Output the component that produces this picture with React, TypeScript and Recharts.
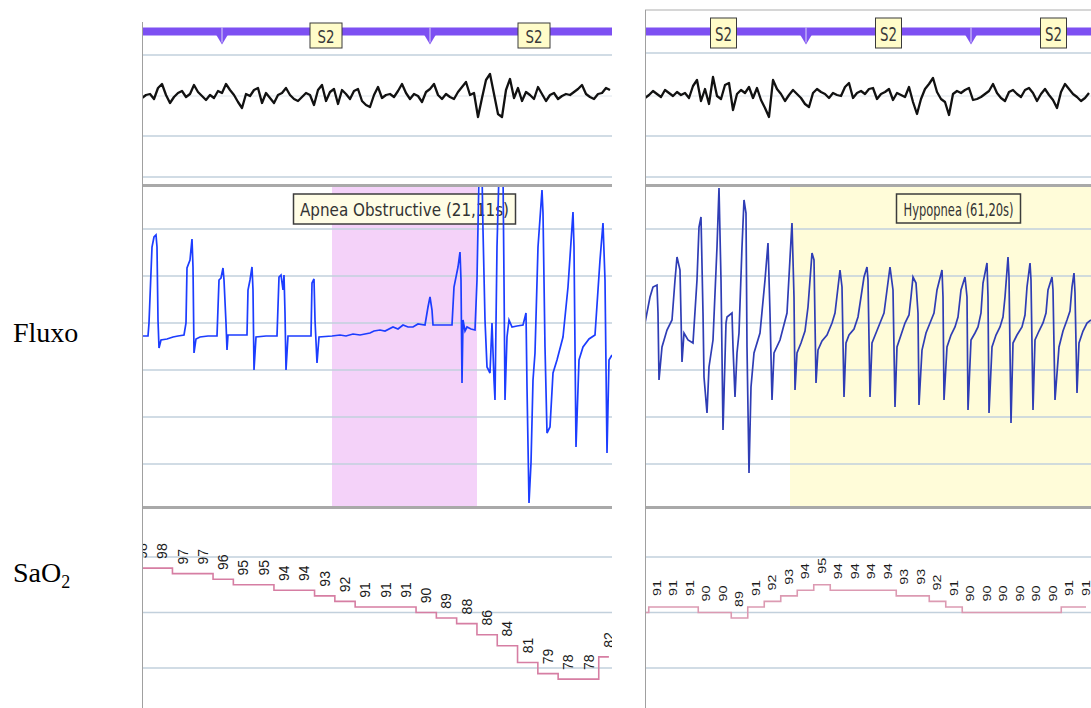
import React from "react";
import {
  ComposedChart,
  LineChart,
  Line,
  XAxis,
  YAxis,
  ReferenceLine,
  ReferenceArea,
  ReferenceDot,
  LabelList,
} from "recharts";

// time is in screen ticks of each recording window (1 tick = 1 column)

// ---------- apnea window (left) ----------
const apneaEpochStarts = [-128, 80, 288];
const apneaEpochStages = ["S2", "S2", "S2"];
const apneaEpochLen = 208;

// EEG, one sample every 4 ticks
const apneaEeg = [
  -2, 1, 2, -3, 8, 12, 1, -7, -1, 3, 5, -1, 2, 11, 4, 0, -4, 1, -2, 5, 3, 12, 6, 1,
  -6, -12, 2, 0, 6, 8, -7, 3, -2, -7, 1, 3, 8, 1, -3, -5, -1, 3, 1, -9, 6, 11, -5, 4,
  7, -8, 6, 2, -3, 5, 7, -5, -9, -11, 1, 9, -2, 1, 2, -1, 5, 12, 3, -3, 2, 0, -6, 4,
  7, 12, 1, -3, 2, -1, -3, 4, 9, 14, 1, 3, -21, -2, 16, 22, 2, -18, -21, 6, 17, -2, 8, -5,
  4, 1, -3, 9, 2, -5, 1, 3, -3, 0, 2, 1, 4, 7, 11, 2, -1, -3, 2, 3, 8, 6,
];

// airflow [tick, amplitude]
const apneaFlow: [number, number][] = [
  [0, -13], [6, -13], [7, 0], [10, 76], [12, 86], [14, 88], [15, 76], [16, 3], [17, -25], [19, -17],
  [25, -16], [31, -14], [36, -13], [42, -12], [44, 0], [45, 55], [48, 63], [50, 84], [51, 56], [52, -30],
  [54, -16], [58, -14], [66, -13], [75, -13], [77, 43], [79, 45], [81, 55], [82, 43], [84, 0], [85, -27],
  [86, -12], [95, -12], [105, -12], [106, 33], [108, 43], [110, 56], [111, 33], [112, -47], [114, -14],
  [124, -13], [135, -13], [137, 46], [139, 48], [141, 33], [142, 48], [143, 10], [144, -47], [146, -13],
  [158, -13], [169, -13], [170, 40], [172, 44], [173, 3], [175, -40], [177, -14], [190, -13], [198, -12],
  [204, -13], [211, -11], [218, -12], [228, -10], [232, -8], [238, -7], [243, -8], [251, -4], [256, -6],
  [261, -2], [266, -4], [271, -4], [276, -1], [283, -2], [286, 16], [288, 26], [290, 13], [291, -2],
  [300, -2], [310, -2], [312, 36], [316, 56], [318, 71], [319, 43], [320, -60], [321, 3], [323, -8],
  [325, -4], [329, -6], [333, -7], [335, 43], [337, 150], [340, 150], [341, 93], [343, 3], [345, -44],
  [348, -50], [350, 0], [352, -57], [353, -77], [355, 76], [357, 150], [361, 150], [362, 43], [363, -77],
  [365, -14], [367, 3], [370, -4], [375, -3], [381, -2], [384, 10], [385, -64], [387, -180], [389, -140],
  [391, -57], [393, -30], [396, 76], [400, 133], [401, 110], [403, -24], [405, -110], [408, -104],
  [411, -50], [415, -37], [421, -14], [426, 36], [431, 111], [432, 76], [434, -124], [437, -37],
  [441, -24], [447, -16], [453, -12], [458, 63], [461, 100], [463, 43], [465, -130], [467, -37], [470, -32],
];

const apneaEvent = { start: 190, end: 335, label: "Apnea Obstructive (21,11s)" };

// SaO2, one reading every 20.3 ticks
const apneaSpo2 = [98, 98, 97, 97, 96, 95, 95, 94, 94, 93, 92, 91, 91, 91, 90, 89, 88, 86, 84, 81, 79, 78, 78, 82];

// ---------- hypopnea window (right) ----------
const hypoEpochStarts = [-4, 161, 326];
const hypoEpochStages = ["S2", "S2", "S2"];
const hypoEpochLen = 165;

const hypoEeg = [
  -2, 1, 5, 2, -1, 6, 3, 0, 4, 1, 3, -2, 10, 16, -5, 7, -8, 19, 0, -3, 11, 13, -14, 2,
  6, 3, 9, -2, 8, -4, -12, -21, 16, 7, 2, -5, 1, 6, 2, -2, -8, -11, 3, 7, 4, 2, -2, 3,
  1, 0, 9, 13, -2, 3, 5, 2, 7, 8, -3, 2, 4, 7, -4, 3, 1, -1, 9, -6, -18, -3, 7, 12,
  18, 4, -3, -6, -19, 2, 5, 3, 6, 8, -4, -3, -1, 2, 5, 12, 3, -2, -5, 4, 6, 2, -1, 6,
  8, 3, -5, 2, 7, 1, -4, -12, 4, 12, 7, 2, -1, -5, -2, 3,
];

const hypoFlow: [number, number][] = [
  [0, 0], [5, 26], [8, 36], [12, 38], [13, 10], [14, -57], [17, -24], [22, -7], [27, 3], [30, 43],
  [32, 66], [35, 53], [37, -39], [39, -10], [43, -17], [48, -20], [52, 43], [54, 96], [56, 106], [58, 10],
  [59, -54], [62, -90], [64, -44], [68, -17], [72, 76], [74, 135], [76, 43], [78, -107], [81, 0], [82, 6],
  [87, 10], [88, -24], [90, -74], [92, -30], [94, -10], [97, 76], [99, 123], [101, 110], [102, -24],
  [104, -150], [106, -64], [109, -30], [115, -10], [120, 43], [123, 80], [125, 10], [127, -77], [129, -30],
  [135, -17], [142, 10], [146, 83], [147, 100], [149, 26], [150, -67], [152, -30], [156, -20], [160, -8],
  [163, 16], [167, 70], [169, 63], [171, -60], [173, -27], [177, -18], [182, -12], [187, 0], [190, 10],
  [195, 53], [197, 36], [199, -74], [201, -20], [204, -12], [209, -6], [213, 6], [219, 46], [222, 56],
  [223, 43], [225, -74], [227, -20], [231, -10], [235, 0], [239, 10], [242, 33], [245, 56], [248, 33],
  [250, -84], [252, -24], [256, -12], [260, 0], [264, 8], [266, 26], [268, 46], [271, 40], [273, 10],
  [274, -82], [277, -27], [281, -10], [285, 0], [289, 10], [292, 33], [297, 53], [298, 26], [299, -77],
  [302, -24], [306, -12], [310, -4], [313, 6], [316, 33], [320, 46], [322, 26], [323, -87], [326, -17],
  [330, -10], [333, -4], [336, 10], [338, 40], [342, 60], [343, 26], [344, -90], [347, -24], [351, -12],
  [355, -4], [358, 6], [360, 26], [363, 66], [364, 46], [366, -100], [368, -20], [372, -12], [377, -4],
  [380, 8], [382, 36], [385, 60], [386, 43], [388, -87], [390, -17], [394, -8], [398, 0], [401, 10],
  [403, 33], [407, 46], [408, 33], [410, -77], [414, -24], [418, -8], [422, 3], [425, 12], [427, 36],
  [429, 50], [430, 30], [432, -70], [434, -20], [438, -8], [442, 0], [446, 3],
];

const hypoEvent = { start: 145, end: 482, label: "Hypopnea (61,20s)" };

// SaO2, one reading every 16.5 ticks (the first reading has no label in view)
const hypoSpo2 = [90, 91, 91, 91, 90, 90, 89, 91, 92, 93, 94, 95, 94, 94, 94, 94, 93, 93, 92, 91, 90, 90, 90, 90, 90, 90, 91, 91];

// ---------- shared ----------
const STAGE_LEVEL: Record<string, number> = { S2: 0 };
const EEG_STEP = 4;
const flowGrid = [94, 47, 0, -47, -94, -141];
const spo2Grid = [100, 90, 80];

const PURPLE = "#7d50f2";
const GRID = "#c2d0dc";
const FRAME = "#a9a9a9";
const TAG_FONT = "'DejaVu Sans Condensed', 'DejaVu Sans', sans-serif";
const M = { top: 0, right: 0, bottom: 0, left: 0 };

interface PanelProps {
  left: number;
  width: number;
  frameTop: number;
  epochStarts: number[];
  epochStages: string[];
  epochLen: number;
  tag: { w: number; top: number; h: number; fs: number };
  topRule: boolean;
  eeg: number[];
  eegRules: number[];
  flow: [number, number][];
  flowColor: string;
  event: { start: number; end: number; label: string };
  eventFill: string;
  eventBox: { w: number; h: number; fs: number; len: number; fill: string };
  spo2: number[];
  spo2Start: number;
  spo2Step: number;
  spo2LabelFrom: number;
  spo2Color: string;
  spo2Font: { fs: number; len?: number; gap: number };
}

function Notch({ cx, cy }: any) {
  return (
    <g>
      <path d={`M${cx - 6},${cy + 3} L${cx},${cy + 13} L${cx + 6},${cy + 3} Z`} fill={PURPLE} />
      <line x1={cx} y1={cy - 4} x2={cx} y2={cy + 11} stroke="#ddd6f7" strokeWidth={1} />
    </g>
  );
}

function Panel(p: PanelProps) {
  const W = p.width;
  const last = p.epochStarts.length - 1;
  const hypData = [
    ...p.epochStarts.map((s, i) => ({ t: s, v: STAGE_LEVEL[p.epochStages[i]] })),
    { t: p.epochStarts[last] + p.epochLen, v: STAGE_LEVEL[p.epochStages[last]] },
  ];
  const eegData = p.eeg.map((v, i) => ({ t: i * EEG_STEP, v }));
  const flowData = p.flow.map(([t, v]) => ({ t, v }));
  const spo2Data = p.spo2.map((v, i) => ({ t: p.spo2Start + i * p.spo2Step, v }));

  const tag = (stage: string) => ({ cx, cy }: any) => (
    <g>
      <rect x={cx - p.tag.w / 2} y={cy + p.tag.top} width={p.tag.w} height={p.tag.h} fill="#fffcc9" stroke="#3a3a3a" strokeWidth={1} />
      <text
        x={cx}
        y={cy + p.tag.top + p.tag.h / 2 + 1}
        textAnchor="middle"
        dominantBaseline="central"
        fontFamily={TAG_FONT}
        fontSize={p.tag.fs}
        textLength={17}
        lengthAdjust="spacingAndGlyphs"
        fill="#3a3a3a"
      >
        {stage}
      </text>
    </g>
  );

  const eventLabel = (props: any) => {
    const { x, y, width } = props.viewBox;
    const cx = x + width / 2;
    const b = p.eventBox;
    return (
      <g>
        <rect x={cx - b.w / 2} y={y + 9} width={b.w} height={b.h} fill={b.fill} stroke="#3c3c3c" strokeWidth={1.5} />
        <text
          x={cx}
          y={y + 9 + b.h / 2 + 1}
          textAnchor="middle"
          dominantBaseline="central"
          fontFamily={TAG_FONT}
          fontSize={b.fs}
          textLength={b.len}
          lengthAdjust="spacingAndGlyphs"
          fill="#333"
        >
          {p.event.label}
        </text>
      </g>
    );
  };

  const spo2Label = (props: any) => {
    const { x, y, value, index } = props;
    if (index < p.spo2LabelFrom) return null;
    const ty = y - p.spo2Font.gap;
    return (
      <text
        key={index}
        x={x}
        y={ty}
        transform={`rotate(-90 ${x} ${ty})`}
        textAnchor="middle"
        dominantBaseline="central"
        fontFamily="'Liberation Sans', Arial, sans-serif"
        fontSize={p.spo2Font.fs}
        textLength={p.spo2Font.len}
        lengthAdjust={p.spo2Font.len ? "spacingAndGlyphs" : undefined}
        fill="#1a1a1a"
      >
        {value}
      </text>
    );
  };

  const abs = (top: number, height: number): React.CSSProperties => ({ position: "absolute", left: 0, top, width: W, height });

  return (
    <div style={{ position: "absolute", left: p.left, top: 0, width: W, height: 708, overflow: "hidden" }}>
      {/* hypnogram */}
      <div style={abs(0, 60)}>
        <LineChart width={W} height={60} data={hypData} margin={M}>
          <XAxis type="number" dataKey="t" domain={[0, W]} hide allowDataOverflow />
          <YAxis type="number" domain={[-28.5, 31.5]} hide allowDataOverflow />
          {p.topRule && <ReferenceLine y={21.5} stroke="#c8c8c8" strokeWidth={1.5} />}
          <Line dataKey="v" stroke={PURPLE} strokeWidth={8} dot={false} isAnimationActive={false} />
          {p.epochStarts.map((s) => (
            <ReferenceDot key={`n${s}`} x={s} y={0} r={0} shape={Notch} />
          ))}
          {p.epochStarts.map((s, i) => (
            <ReferenceDot key={`s${s}`} x={s + p.epochLen / 2} y={0} r={0} shape={tag(p.epochStages[i])} />
          ))}
        </LineChart>
      </div>

      {/* EEG */}
      <div style={abs(45, 140)}>
        <LineChart width={W} height={140} data={eegData} margin={M}>
          <XAxis type="number" dataKey="t" domain={[0, W]} hide allowDataOverflow />
          <YAxis type="number" domain={[-89, 51]} hide allowDataOverflow />
          <ReferenceLine y={0} stroke="#dfe6ec" strokeWidth={1} />
          {p.eegRules.map((g) => (
            <ReferenceLine key={g} y={g} stroke={GRID} strokeWidth={1.5} />
          ))}
          <Line dataKey="v" stroke="#111" strokeWidth={2.3} strokeLinejoin="round" dot={false} isAnimationActive={false} />
        </LineChart>
      </div>

      {/* airflow */}
      <div style={abs(185, 322)}>
        <ComposedChart width={W} height={322} data={flowData} margin={M}>
          <XAxis type="number" dataKey="t" domain={[0, W]} hide allowDataOverflow />
          <YAxis type="number" domain={[-184, 138]} hide allowDataOverflow />
          <ReferenceArea
            x1={p.event.start}
            x2={p.event.end}
            fill={p.eventFill}
            fillOpacity={1}
            ifOverflow="hidden"
            label={{ content: eventLabel }}
          />
          {flowGrid.map((g) => (
            <ReferenceLine key={g} y={g} stroke={GRID} strokeWidth={1.5} />
          ))}
          <Line dataKey="v" stroke={p.flowColor} strokeWidth={1.7} dot={false} isAnimationActive={false} />
        </ComposedChart>
      </div>

      {/* SaO2 */}
      <div style={abs(507, 201)}>
        <LineChart width={W} height={201} data={spo2Data} margin={M}>
          <XAxis type="number" dataKey="t" domain={[0, W]} hide allowDataOverflow />
          <YAxis type="number" domain={[72.8, 109]} hide allowDataOverflow />
          {spo2Grid.map((g) => (
            <ReferenceLine key={g} y={g} stroke={GRID} strokeWidth={1.5} />
          ))}
          <Line type="step" dataKey="v" stroke={p.spo2Color} strokeWidth={1.6} dot={false} isAnimationActive={false}>
            <LabelList dataKey="v" content={spo2Label} />
          </Line>
        </LineChart>
      </div>

      {/* frame */}
      <div style={{ position: "absolute", left: 0, top: 184, width: W, height: 3, background: FRAME }} />
      <div style={{ position: "absolute", left: 0, top: 506, width: W, height: 3, background: FRAME }} />
      <div style={{ position: "absolute", left: 0, top: p.frameTop, width: 1, height: 708, background: "#a0a0a0" }} />
    </div>
  );
}

export default function App() {
  return (
    <div style={{ position: "absolute", left: 0, top: 0, width: 1091, height: 708, overflow: "hidden", background: "#fff" }}>
      <div style={{ position: "absolute", left: 13, top: 319, fontFamily: "'Liberation Serif', 'Times New Roman', serif", fontSize: 28, lineHeight: "28px", color: "#000" }}>
        Fluxo
      </div>
      <div style={{ position: "absolute", left: 13, top: 559, fontFamily: "'Liberation Serif', 'Times New Roman', serif", fontSize: 28, lineHeight: "28px", color: "#000" }}>
        SaO<span style={{ fontSize: 18, position: "relative", top: 6 }}>2</span>
      </div>

      <Panel
        left={142}
        width={470}
        frameTop={22}
        epochStarts={apneaEpochStarts}
        epochStages={apneaEpochStages}
        epochLen={apneaEpochLen}
        tag={{ w: 32, top: -8.5, h: 25, fs: 17 }}
        topRule={false}
        eeg={apneaEeg}
        eegRules={[41, -40, -81]}
        flow={apneaFlow}
        flowColor="#1c3dff"
        event={apneaEvent}
        eventFill="#f4d2f9"
        eventBox={{ w: 222, h: 30, fs: 17, len: 209, fill: "#fffde6" }}
        spo2={apneaSpo2}
        spo2Start={0}
        spo2Step={20.3}
        spo2LabelFrom={0}
        spo2Color="#d67ea3"
        spo2Font={{ fs: 14, gap: 17 }}
      />

      <Panel
        left={645}
        width={446}
        frameTop={10}
        epochStarts={hypoEpochStarts}
        epochStages={hypoEpochStages}
        epochLen={hypoEpochLen}
        tag={{ w: 26, top: -13.5, h: 30, fs: 20 }}
        topRule={true}
        eeg={hypoEeg}
        eegRules={[43, -40, -81]}
        flow={hypoFlow}
        flowColor="#2f3db5"
        event={hypoEvent}
        eventFill="#fffcd9"
        eventBox={{ w: 124, h: 29, fs: 17, len: 110, fill: "#fffcd6" }}
        spo2={hypoSpo2}
        spo2Start={-4.5}
        spo2Step={16.5}
        spo2LabelFrom={1}
        spo2Color="#dc9ab2"
        spo2Font={{ fs: 11, len: 16, gap: 19 }}
      />
    </div>
  );
}
